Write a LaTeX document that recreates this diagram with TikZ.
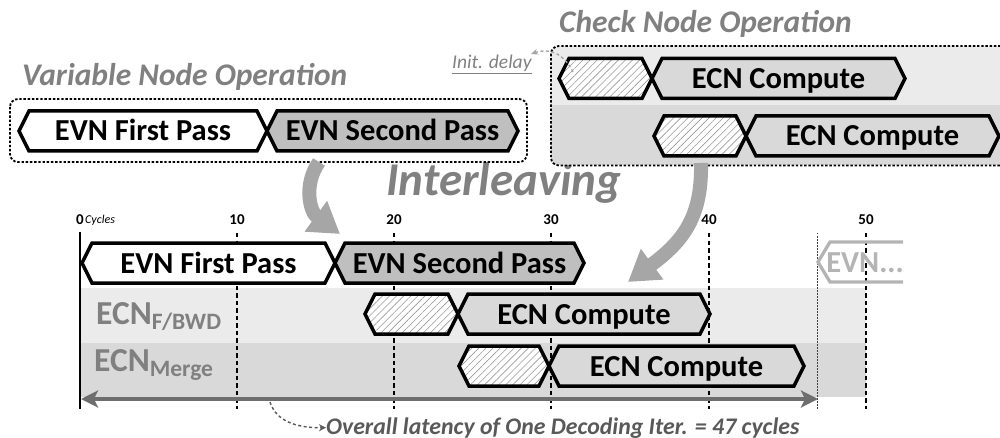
\documentclass[tikz,border=0pt]{standalone}
\usepackage{fontspec}
\setmainfont{Carlito}
\usetikzlibrary{arrows.meta,patterns.meta}
\definecolor{bandA}{HTML}{EBEBEB}
\definecolor{bandB}{HTML}{D9D9D9}
\definecolor{txtgray}{HTML}{808080}
\definecolor{arrgray}{HTML}{A6A6A6}
\definecolor{latgray}{HTML}{6E6E6E}
\definecolor{lattext}{HTML}{595959}
\definecolor{evntwo}{HTML}{BFBFBF}
\definecolor{ecnfill}{HTML}{D9D9D9}
\definecolor{ghost}{HTML}{B4B4B4}
\tikzset{
  hexline/.style={draw=black,line width=3.5pt,line join=miter},
  hextext/.style={inner sep=0pt,anchor=base,font=\fontsize{30.5}{30.5}\selectfont\bfseries},
  hatchbox/.style={preaction={fill=white},pattern={Lines[angle=45,distance=5pt,line width=0.6pt]},pattern color=gray!80},
  evnone/.style={fill=white},
  evnsec/.style={fill=evntwo},
  ecnbox/.style={fill=ecnfill},
  dashbox/.style={draw=black,line width=1.8pt,dash pattern=on 2.4pt off 1.8pt,rounded corners=8pt},
  titletext/.style={inner sep=0pt,anchor=base west,text=txtgray,font=\fontsize{31.5}{31.5}\selectfont\bfseries\itshape},
  ticklabel/.style={inner sep=0pt,font=\fontsize{15}{15}\selectfont\bfseries},
  tickline/.style={draw=black,line width=2.6pt,dash pattern=on 4.5pt off 3pt},
  bigarrow/.style={draw=arrgray,line width=14pt,-{Triangle[length=30pt,width=36pt]}},
  smalldash/.style={line width=1.4pt,dash pattern=on 3pt off 2.5pt},
  ecnlabel/.style={inner sep=0pt,anchor=base west,text=txtgray,font=\fontsize{33.5}{33.5}\selectfont\bfseries}
}
% #1 style, #2 name, #3 left tip x, #4 right tip x, #5 centre y, #6 text
\newcommand{\hexbox}[6]{%
  \draw[hexline,#1] (#3,#5) -- ({#3+10},{#5-20}) -- ({#4-10},{#5-20}) -- (#4,#5) -- ({#4-10},{#5+20}) -- ({#3+10},{#5+20}) -- cycle;
  \node[hextext] (#2) at ({(#3+#4)/2},{#5+10}) {#6};}
\newcommand{\subtxt}[1]{\raisebox{-5.5pt}{\fontsize{23.5}{23.5}\selectfont #1}}
\begin{document}
\begin{tikzpicture}[x=1pt,y=-1pt]
\useasboundingbox (0,0) rectangle (1000,438);
\clip (0,0) rectangle (1000,438);

% ---------- titles ----------
\node[titletext] (vtitle) at (22,86) {Variable Node Operation};
\node[titletext] (ctitle) at (559,33) {Check Node Operation};
\node[titletext,font=\fontsize{47}{47}\selectfont\bfseries\itshape] (ilv) at (386,196) {Interleaving};

% ---------- check node box ----------
\begin{scope}
  \clip[rounded corners=8pt] (551,46) rectangle (1012,165.5);
  \fill[bandA] (551,46) rectangle (1012,105.5);
  \fill[bandB] (551,105.5) rectangle (1012,165.5);
\end{scope}
\draw[dashbox] (551,46) rectangle (1012,165.5);
\coordinate (cbot) at (701,163);

% ---------- variable node box ----------
\draw[dashbox] (10,99) rectangle (527,162);
\coordinate (vbot) at (319,162);

% top hexagons
\hexbox{evnone}{vfirst}{19}{267}{131}{EVN First Pass}
\hexbox{evnsec}{vsecond}{267}{518}{131}{EVN Second Pass}
\hexbox{hatchbox}{chA}{559}{652}{78.5}{}
\hexbox{ecnbox}{ceA}{652}{905}{78.5}{ECN Compute}
\hexbox{hatchbox}{chB}{654}{746}{136}{}
\hexbox{ecnbox}{ceB}{746}{999}{136}{ECN Compute}

% init delay
\node[inner sep=0pt,anchor=base west,text=txtgray,font=\fontsize{19.5}{19.5}\selectfont\itshape] (idl) at (452,69) {\underline{Init. delay}};
\coordinate (idstart) at (573,72);
\coordinate (idend) at (531,54);
\draw[smalldash,draw=gray!70,-{Stealth[length=7pt,width=6pt]}] (idstart) .. controls (563,52) and (548,48) .. (idend);

% ---------- timeline bands ----------
\fill[bandA] (80,288) rectangle (866,342.5);
\fill[bandB] (80,342.5) rectangle (866,397);

% ticks
\foreach \n/\xx in {10/237,20/394,30/551,40/709,50/866}{
  \node[ticklabel] (tl\n) at (\xx,220) {\n};
  \draw[tickline] (\xx,233) -- (\xx,409);
}
\node[ticklabel] (tl0) at (80,220) {0};
\node[inner sep=0pt,anchor=west,font=\fontsize{12}{12}\selectfont\itshape] (cyc) at (85,220) {Cycles};
\draw[black,line width=2.6pt] (80,232) -- (80,409);
\draw[black!75,line width=1pt,dash pattern=on 1.5pt off 1.5pt] (817,233) -- (817,409);

% labels
\node[ecnlabel] (lfb) at (96,324) {ECN\subtxt{F/BWD}};
\node[ecnlabel] (lme) at (94,371) {ECN\subtxt{Merge}};

% timeline hexagons
\hexbox{evnone}{tfirst}{82}{335}{263}{EVN First Pass}
\hexbox{evnsec}{tsecond}{335}{584}{263}{EVN Second Pass}
\hexbox{hatchbox}{fbh}{365}{458}{314}{}
\hexbox{ecnbox}{fbe}{458}{710}{314}{ECN Compute}
\hexbox{hatchbox}{meh}{459}{549}{366}{}
\hexbox{ecnbox}{mee}{549}{804}{366}{ECN Compute}

% ghost next EVN
\draw[draw=ghost,line width=3.3pt] (903,242) -- (830,242) -- (818,262) -- (830,282) -- (903,282);
\node[hextext,text=ghost] (ghostevn) at (865,272) {EVN...};

% overall latency arrow
\coordinate (latL) at (81,399);
\coordinate (latR) at (818,399);
\draw[latgray,line width=4pt,{Stealth[length=17pt,width=17pt,inset=4pt]}-{Stealth[length=17pt,width=17pt,inset=4pt]}] (latL) -- (latR);
\node[inner sep=0pt,anchor=base west,text=lattext,font=\fontsize{23.8}{23.8}\selectfont\bfseries\itshape] (lattxt) at (326,434) {Overall latency of One Decoding Iter. = 47 cycles};
\coordinate (ldstart) at (270,402);
\draw[smalldash,draw=lattext,-{Stealth[length=7pt,width=7pt]}] (ldstart) .. controls (276,421) and (296,428) .. (lattxt.west);

% interleaving arrows
\coordinate (tipA) at (340,234);
\coordinate (tipB) at (628,282);
\draw[bigarrow] (vbot) .. controls (303,185) and (310,212) .. (tipA);
\draw[bigarrow] (cbot) .. controls (702,215) and (685,240) .. (tipB);
\end{tikzpicture}
\end{document}
